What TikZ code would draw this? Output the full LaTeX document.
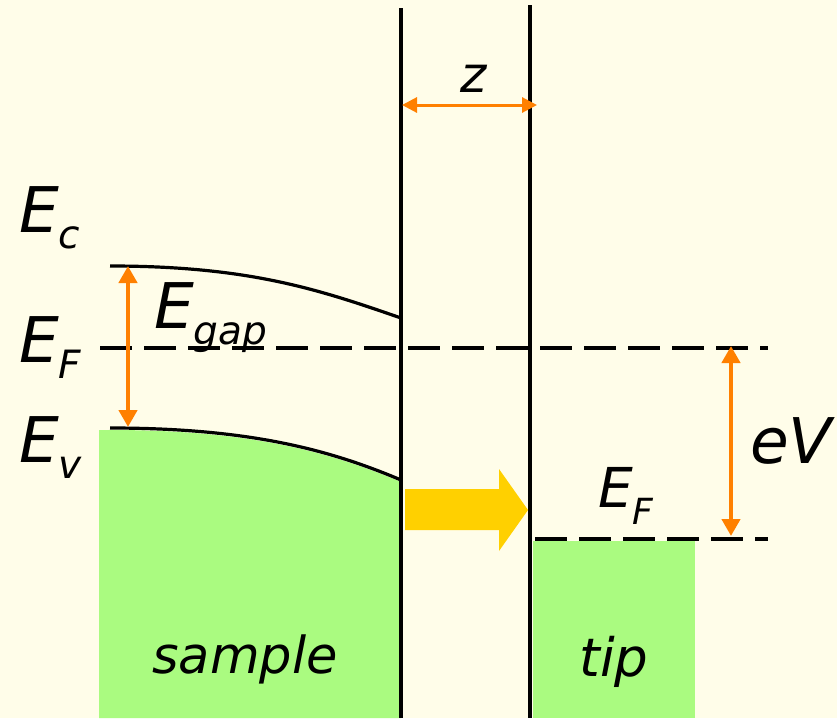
\documentclass[tikz,border=0pt]{standalone}
\usepackage{fontspec}
\setmainfont{DejaVu Sans}
\usetikzlibrary{arrows.meta}
\definecolor{bgcol}{RGB}{255,253,233}
\definecolor{bandgreen}{RGB}{170,251,128}
\definecolor{arrorange}{RGB}{255,128,0}
\definecolor{flowyellow}{RGB}{255,208,0}
\newcommand{\Elab}[1]{E\kern-0.5pt\raisebox{-16pt}{\fontsize{39}{39}\selectfont #1}}
\newcommand{\ElabS}[1]{E\kern-0.5pt\raisebox{-17pt}{\fontsize{36}{36}\selectfont #1}}
\tikzset{
  lab/.style={inner sep=0pt, anchor=base west, font=\fontsize{63}{63}\selectfont\itshape},
  band/.style={line width=3.2pt, black},
  wall/.style={line width=3.5pt, black},
  fermi/.style={line width=4pt, black, dash pattern=on 32pt off 12pt},
  dimarrow/.style={line width=4.5pt, arrorange, {Triangle[length=17pt,width=18pt]}-{Triangle[length=17pt,width=18pt]}},
  zarrow/.style={line width=3pt, arrorange, {Triangle[length=15pt,width=15pt]}-{Triangle[length=15pt,width=15pt]}},
}
\begin{document}
\begin{tikzpicture}[x=1pt,y=-1pt]
\fill[bgcol] (0,0) rectangle (837,718);
\useasboundingbox (0,0) rectangle (837,718);

% green fills
\fill[bandgreen] (99,430) -- (110,430) .. controls (250,430) and (330,452) .. (401,482) -- (401,718) -- (99,718) -- cycle;
\fill[bandgreen] (533,541) rectangle (695,718);

% band edges
\coordinate (cbL) at (110,266);
\coordinate (cbR) at (401,318);
\coordinate (vbL) at (110,428);
\coordinate (vbR) at (401,480);
\draw[band] (cbL) .. controls (250,266) and (320,290) .. (cbR);
\draw[band] (vbL) .. controls (250,428) and (330,450) .. (vbR);

% Fermi levels
\coordinate (efL) at (100,348);
\coordinate (efR) at (768,348);
\coordinate (eftL) at (535,539);
\coordinate (eftR) at (768,539);
\draw[fermi] (efL) -- (efR);
\draw[fermi] (eftL) -- (eftR);

% walls
\coordinate (w1t) at (401,8);
\coordinate (w1b) at (401,718);
\coordinate (w2t) at (530,5);
\coordinate (w2b) at (530,718);
\draw[wall] (w1t) -- (w1b);
\draw[wall] (w2t) -- (w2b);

% tunnelling arrow
\fill[flowyellow] (405,489) -- (499,489) -- (499,469) -- (528,510) -- (499,551) -- (499,530) -- (405,530) -- cycle;

% dimension arrows
\coordinate (zL) at (402,105);
\coordinate (zR) at (537,105);
\draw[zarrow] (zL) -- (zR);
\coordinate (gT) at (128,266);
\coordinate (gB) at (128,427);
\draw[dimarrow] (gT) -- (gB);
\coordinate (vT) at (731,346);
\coordinate (vB) at (731,536);
\draw[dimarrow] (vT) -- (vB);

% labels
\node[lab] (ec) at (19,232) {\Elab{c}};
\node[lab] (efl) at (19,362) {\Elab{F}};
\node[lab] (ev) at (19,462) {\Elab{v}};
\node[lab] (eg) at (154,328) {\Elab{gap}};
\node[lab, font=\fontsize{55}{55}\selectfont\itshape] (eft) at (598,507) {\ElabS{F}};
\node[lab] (ev2) at (750,463) {eV};
\node[inner sep=0pt, anchor=base, font=\fontsize{50}{50}\selectfont\itshape] (z) at (474,92) {z};
\node[inner sep=0pt, anchor=base, font=\fontsize{51}{51}\selectfont\itshape] (sample) at (245,673) {sample};
\node[inner sep=0pt, anchor=base, font=\fontsize{53}{53}\selectfont\itshape] (tip) at (614,676) {tip};
\end{tikzpicture}
\end{document}
